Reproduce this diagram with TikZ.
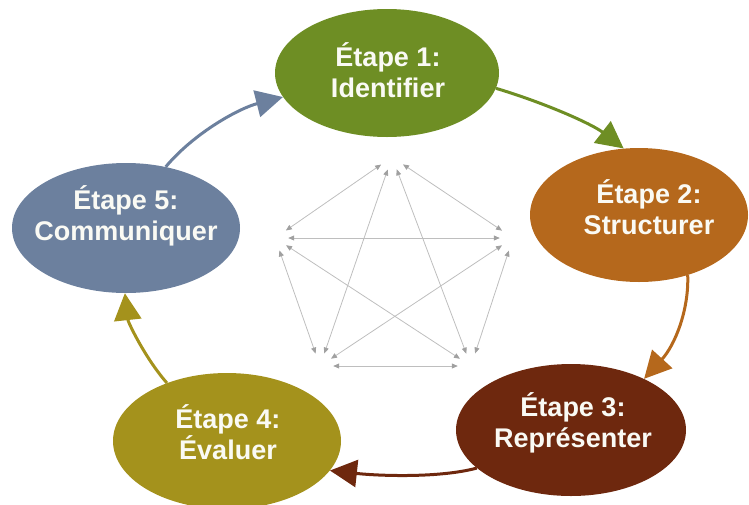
\documentclass[tikz,border=0pt]{standalone}
\usepackage{fontspec}
\setmainfont{Liberation Sans}
\usetikzlibrary{shapes.geometric,arrows.meta}
\definecolor{cgreen}{RGB}{110,142,36}
\definecolor{corange}{RGB}{181,104,28}
\definecolor{cbrown}{RGB}{110,40,14}
\definecolor{colive}{RGB}{164,146,28}
\definecolor{cblue}{RGB}{108,128,158}
\definecolor{cgray}{RGB}{190,190,190}
\definecolor{cgraytip}{RGB}{160,160,160}
\definecolor{ctext}{RGB}{250,250,244}
\tikzset{
  stage/.style={ellipse, inner sep=0pt, fill=#1, draw=none},
  stagetext/.style={text=ctext, align=center, inner sep=0pt,
    font=\fontsize{27}{31}\selectfont\bfseries},
  cyclearrow/.style={draw=#1, line width=3pt,
    -{Triangle[length=27pt,width=27pt]}},
  vertex/.style={circle, minimum size=26pt, inner sep=0pt},
  web/.style={draw=cgray, line width=0.8pt,
    {Triangle[length=6pt,width=5pt,color=cgraytip]}-{Triangle[length=6pt,width=5pt,color=cgraytip]}}
}
\begin{document}
\begin{tikzpicture}[x=1pt,y=-1pt]
\useasboundingbox (0,0) rectangle (749,504);
% stages
\node[stage=cgreen, minimum width=224pt, minimum height=128pt] (e1) at (387,73) {};
\node[stage=corange, minimum width=218pt, minimum height=134pt] (e2) at (639,215) {};
\node[stage=cbrown, minimum width=230pt, minimum height=132pt] (e3) at (571,430) {};
\node[stage=colive, minimum width=228pt, minimum height=136pt] (e4) at (227,441) {};
\node[stage=cblue, minimum width=228pt, minimum height=130pt] (e5) at (126,228) {};
\node[stagetext] (t1) at (388,70) {Étape 1:\\Identifier};
\node[stagetext] (t2) at (649,207) {Étape 2:\\Structurer};
\node[stagetext] (t3) at (573,423) {Étape 3:\\Représenter};
\node[stagetext] (t4) at (228,432) {Étape 4:\\Évaluer};
\node[stagetext] (t5) at (126,216) {Étape 5:\\Communiquer};
% cycle arrows
\draw[cyclearrow=cgreen] (e1.-8) .. controls (545,103) and (592,124) .. (e2.103);
\draw[cyclearrow=corange] (e2.-51) .. controls (689,310) and (675,345) .. (e3.35);
\draw[cyclearrow=cbrown] (e3.202) .. controls (440,478) and (380,476) .. (e4.-16);
\draw[cyclearrow=colive] (e4.136) .. controls (145,358) and (128,322) .. (e5.-91);
\draw[cyclearrow=cblue] (e5.57) .. controls (195,132) and (240,108) .. (e1.193);
% central web
\node[vertex] (v1) at (392,157) {};
\node[vertex] (v2) at (513,238) {};
\node[vertex] (v3) at (471,366) {};
\node[vertex] (v4) at (320,366) {};
\node[vertex] (v5) at (275,238) {};
\draw[web] (v1) -- (v2);
\draw[web] (v1) -- (v3);
\draw[web] (v1) -- (v4);
\draw[web] (v1) -- (v5);
\draw[web] (v2) -- (v3);
\draw[web] (v2) -- (v4);
\draw[web] (v2) -- (v5);
\draw[web] (v3) -- (v4);
\draw[web] (v3) -- (v5);
\draw[web] (v4) -- (v5);
\end{tikzpicture}
\end{document}
